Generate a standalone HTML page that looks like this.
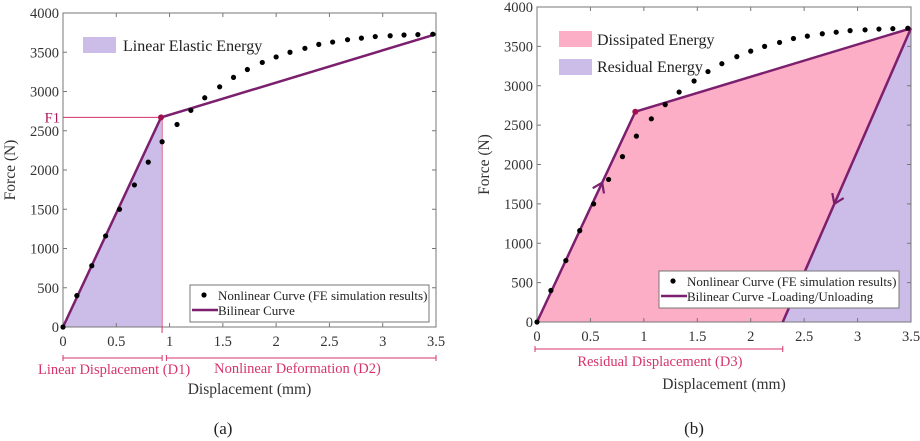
<!DOCTYPE html>
<html><head><meta charset="utf-8"><style>
body{margin:0;background:#fff}
svg{display:block;font-family:"Liberation Serif",serif}
</style></head><body>
<svg id="s" width="920" height="441" viewBox="0 0 920 441"></svg>
<script>
const feX=[0,0.13,0.27,0.4,0.53,0.67,0.8,0.93,1.07,1.2,1.33,1.47,1.6,1.73,1.87,2.0,2.13,2.27,2.4,2.53,2.67,2.8,2.93,3.07,3.2,3.33,3.47];
const feY=[0,400,780,1160,1500,1810,2100,2360,2580,2760,2920,3060,3180,3280,3370,3440,3500,3550,3600,3630,3660,3680,3700,3710,3720,3725,3730];
const biX=[0,0.92,3.5];
const biY=[0,2670,3730];
const unloadX=[3.5,2.3];
const unloadY=[3730,0];
const xTicks=[0,0.5,1,1.5,2,2.5,3,3.5];
const yTicks=[0,500,1000,1500,2000,2500,3000,3500,4000];
const NS="http://www.w3.org/2000/svg";
const svg=document.getElementById('s');
function el(t,a,p){const e=document.createElementNS(NS,t);for(const k in a)e.setAttribute(k,a[k]);(p||svg).appendChild(e);return e;}
function txt(s,a,p){const e=el('text',a,p);e.textContent=s;return e;}
function arrow(g,x0,y0,x1,y1,tx,ty){
  // direction from (x0,y0) to (x1,y1), tip at (tx,ty)
  const dx=x1-x0,dy=y1-y0,l=Math.hypot(dx,dy),ux=dx/l,uy=dy/l,s=11,a=0.6;
  const c=Math.cos(a),sn=Math.sin(a);
  const b1=[tx-s*(ux*c-uy*sn),ty-s*(uy*c+ux*sn)];
  const b2=[tx-s*(ux*c+uy*sn),ty-s*(uy*c-ux*sn)];
  el('polyline',{points:`${b1} ${tx},${ty} ${b2}`,fill:'none',stroke:'#7b1f6e','stroke-width':2.2},g);
}
function panel(L,R,T,B,isB){
  const g=el('g',{});
  
  
  const X=v=>L+v/3.5*(R-L), Y=v=>B-v/4000*(B-T);
  el('rect',{x:L,y:T,width:R-L,height:B-T,fill:'#fff'},g);
  const P=(xs,ys)=>xs.map((x,i)=>X(x)+','+Y(ys[i])).join(' ');
  if(!isB){
    const a=el('polygon',{points:P([0,biX[1],biX[1]],[0,biY[1],0]),fill:'#cbbde8'},g);
    
  }else{
    const a=el('polygon',{points:P([0,biX[1],biX[2],unloadX[1]],[0,biY[1],biY[2],0]),fill:'#fcaec6'},g);
    
    const r=el('polygon',{points:P([unloadX[1],3.5,3.5],[0,3730,0]),fill:'#cbbde8'},g);
    
  }
  el('rect',{x:L,y:T,width:R-L,height:B-T,fill:'none',stroke:'#777','stroke-width':1},g);
  xTicks.forEach(v=>{el('line',{x1:X(v),x2:X(v),y1:B,y2:B-4,stroke:'#777'},g);el('line',{x1:X(v),x2:X(v),y1:T,y2:T+4,stroke:'#777'},g);
    const t=txt(String(v),{x:X(v),y:B+19,'text-anchor':'middle','font-size':14.5,fill:'#333'},g);});
  yTicks.forEach(v=>{el('line',{x1:L,x2:L+4,y1:Y(v),y2:Y(v),stroke:'#777'},g);el('line',{x1:R,x2:R-4,y1:Y(v),y2:Y(v),stroke:'#777'},g);
    const t=txt(String(v),{x:L-4,y:Y(v)+5,'text-anchor':'end','font-size':14.5,fill:'#333'},g);});
  const yl=txt('Force (N)',{x:0,y:0,transform:`translate(${L-48},${(T+B)/2}) rotate(-90)`,'text-anchor':'middle','font-size':15.5,fill:'#333'},g);
  
  const xl=txt('Displacement (mm)',{x:(L+R)/2,y:isB?389:394,'text-anchor':'middle','font-size':15.5,fill:'#333'},g);
  
  const pink='#d6336c';
  if(!isB){
    el('line',{x1:L,x2:X(biX[1]),y1:Y(biY[1]),y2:Y(biY[1]),stroke:pink,'stroke-width':1},g);
    el('line',{x1:X(biX[1])+1,x2:X(biX[1])+1,y1:Y(biY[1]),y2:B+6,stroke:pink,'stroke-width':1},g);
    txt('F1',{x:L-3,y:Y(biY[1])+5,'text-anchor':'end','font-size':14.5,fill:'#b0155a'},g);
    el('line',{x1:X(0),x2:X(0.93),y1:358,y2:358,stroke:pink},g);
    el('line',{x1:X(0.97),x2:X(3.5),y1:358,y2:358,stroke:pink},g);
    [0,0.93,0.97,3.5].forEach(v=>el('line',{x1:X(v),x2:X(v),y1:355,y2:361,stroke:pink},g));
    txt('Linear Displacement (D1)',{x:X(0.47)+1,y:374,'text-anchor':'middle','font-size':14.5,fill:pink},g);
    txt('Nonlinear Deformation (D2)',{x:X(2.2),y:373,'text-anchor':'middle','font-size':14.5,fill:pink},g);
  }else{
    el('line',{x1:X(0)-2,x2:X(2.3),y1:349,y2:349,stroke:pink},g);
    [0,2.3].forEach(v=>el('line',{x1:X(v)-(v?0:2),x2:X(v)-(v?0:2),y1:346,y2:352,stroke:pink},g));
    txt('Residual Displacement (D3)',{x:X(1.15),y:366,'text-anchor':'middle','font-size':14.5,fill:pink},g);
  }
  const line=el('polyline',{points:P(biX,biY),fill:'none',stroke:'#7b1f6e','stroke-width':2.5},g);
  
  if(isB){
    const u=el('polyline',{points:P(unloadX,unloadY),fill:'none',stroke:'#7b1f6e','stroke-width':2.5},g);
    
    const tu=0.61, tyu=tu/biX[1]*biY[1];
    arrow(g,X(0),Y(0),X(biX[1]),Y(biY[1]),X(tu),Y(tyu));
    const ty2=1500, tx2=2.3+ty2/3730*1.2;
    arrow(g,X(3.5),Y(3730),X(2.3),Y(0),X(tx2),Y(ty2));
  }
  el('circle',{cx:X(biX[1]),cy:Y(biY[1]),r:3,fill:'#a0104e'},g);
  feX.forEach((x,i)=>{const c=el('circle',{cx:X(x),cy:Y(feY[i]),r:2.6,fill:'#000'},g);
    });
  const lx=isB?659:190, ly=isB?271:285, lw=isB?240:239;
  const lg=el('g',{},g);
  el('rect',{x:lx,y:ly,width:lw,height:37,fill:'#fff',stroke:'#777'},lg);
  el('circle',{cx:lx+14,cy:ly+10,r:2.6,fill:'#000'},lg);
  txt('Nonlinear Curve (FE simulation results)',{x:lx+28,y:ly+15,'font-size':13,fill:'#222'},lg);
  el('line',{x1:lx+2,x2:lx+28,y1:ly+25,y2:ly+25,stroke:'#7b1f6e','stroke-width':2.5},lg);
  txt(isB?'Bilinear Curve  -Loading/Unloading':'Bilinear Curve',{x:lx+28,y:ly+30,'font-size':13,fill:'#222'},lg);
  if(!isB){
    el('rect',{x:83,y:37,width:33,height:16,fill:'#cbbde8'},g);
    txt('Linear Elastic Energy',{x:123,y:51,'font-size':16,fill:'#222'},g);
  }else{
    el('rect',{x:559,y:31,width:33,height:16,fill:'#fcaec6'},g);
    txt('Dissipated Energy',{x:597,y:45,'font-size':16,fill:'#222'},g);
    el('rect',{x:559,y:59,width:33,height:16,fill:'#cbbde8'},g);
    txt('Residual Energy',{x:597,y:72,'font-size':16,fill:'#222'},g);
  }
  const cap=txt(isB?'(b)':'(a)',{x:isB?694:223,y:434,'text-anchor':'middle','font-size':17,fill:'#222'},g);
  
}
panel(63,436,13,327,false);
panel(537,911,7,322,true);
</script>
</body></html>
